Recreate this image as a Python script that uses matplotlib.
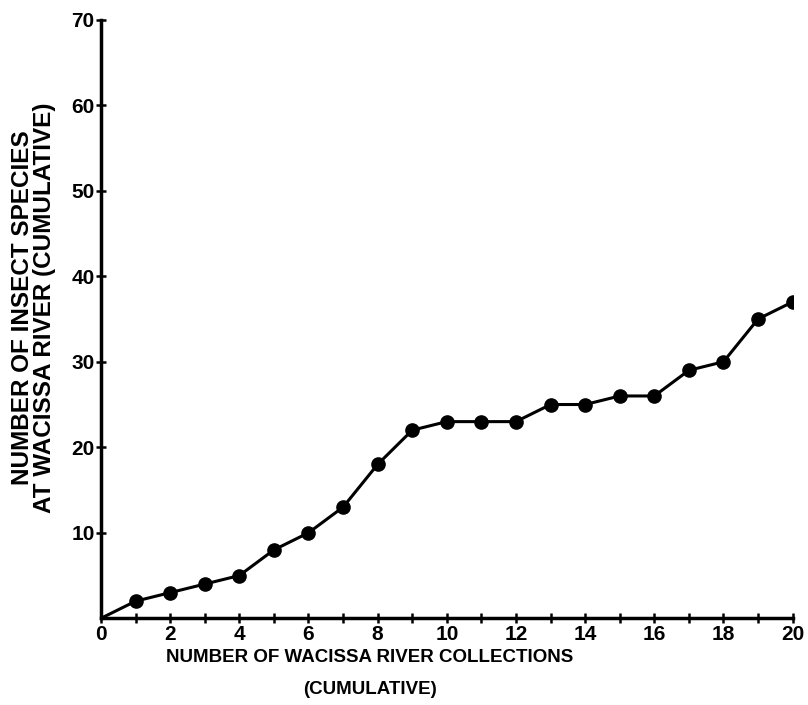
import numpy as np
import matplotlib.pyplot as plt

# cumulative collections vs cumulative species count
collections = [0, 1, 2, 3, 4, 5, 6, 7, 8, 9, 10, 11, 12, 13, 14, 15, 16, 17, 18, 19, 20]
species = [0, 2, 3, 4, 5, 8, 10, 13, 18, 22, 23, 23, 23, 25, 25, 26, 26, 29, 30, 35, 37]
x_ticks = list(range(0, 21, 2))
y_ticks = [10, 20, 30, 40, 50, 60, 70]

plt.rcParams['font.family'] = ['Liberation Sans', 'DejaVu Sans']
plt.rcParams['font.weight'] = 'bold'

fig = plt.figure(figsize=(8.08, 7.05), dpi=100)
ax = fig.add_axes([0.125, 0.123, 0.856, 0.849])

ax.plot(collections, species, color='black', lw=2.2, zorder=2)
ax.plot(collections[1:], species[1:], 'o', color='black', ms=9.5, zorder=3)

ax.set_xlim(0, 20)
ax.set_ylim(0, 70)
for side in ['top', 'right']:
    ax.spines[side].set_visible(False)
for side in ['left', 'bottom']:
    ax.spines[side].set_linewidth(2.5)
    ax.spines[side].set_clip_on(False)

ax.set_xticks(x_ticks)
ax.set_xticks(range(0, 21), minor=True)
ax.set_yticks(y_ticks)
ax.tick_params(axis='both', which='both', direction='inout', length=7, width=1.8, labelsize=15)
ax.tick_params(axis='x', pad=1)
ax.tick_params(axis='y', pad=1)

fig.text(0.458, 0.067, 'NUMBER OF WACISSA RIVER COLLECTIONS', ha='center', va='center', fontsize=13.5)
fig.text(0.458, 0.022, '(CUMULATIVE)', ha='center', va='center', fontsize=13.5)
fig.text(0.042, 0.563, 'NUMBER OF INSECT SPECIES\nAT WACISSA RIVER (CUMULATIVE)', ha='center', va='center',
         rotation=90, fontsize=17.5, linespacing=0.95, multialignment='center')

fig.savefig('out.png', dpi=100)
